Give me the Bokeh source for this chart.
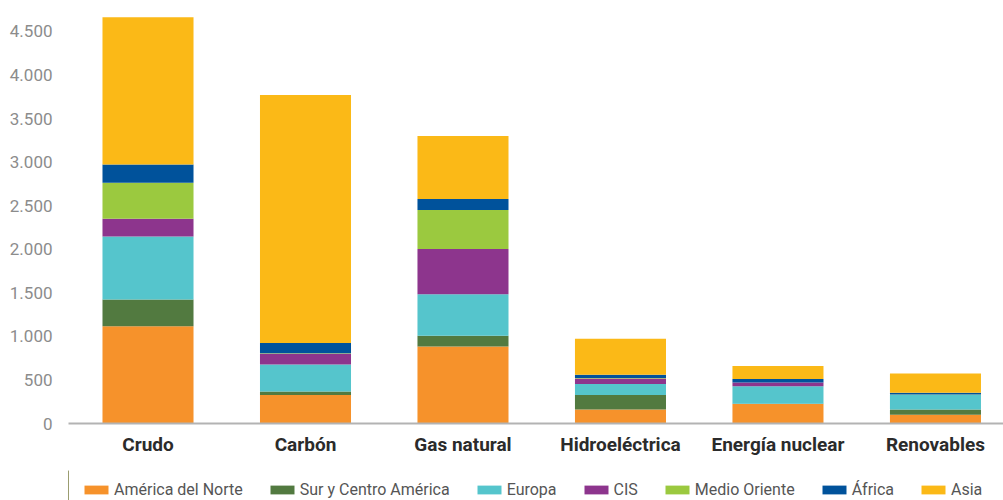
from bokeh.plotting import figure
from bokeh.layouts import column
from bokeh.models import FixedTicker, Legend, LegendItem, Range1d
from bokeh.embed import file_html
from bokeh.resources import INLINE

categories = ["Crudo", "Carbón", "Gas natural", "Hidroeléctrica", "Energía nuclear", "Renovables"]
regions = ["América del Norte", "Sur y Centro América", "Europa", "CIS", "Medio Oriente", "África", "Asia"]
colors = ["#F6922B", "#527A40", "#55C5CC", "#8D358D", "#9BC93F", "#00529B", "#FBB917"]

america_norte = [1117, 326, 884, 161, 223, 100]
sur_centro = [306, 41, 123, 165, 5, 61]
europa = [724, 310, 478, 126, 201, 168]
cis = [203, 123, 517, 65, 42, 2]
medio_oriente = [413, 5, 448, 5, 0, 2]
africa = [210, 118, 126, 39, 39, 19]
asia = [1691, 2847, 723, 413, 149, 222]

y_ticks = [0, 500, 1000, 1500, 2000, 2500, 3000, 3500, 4000, 4500]
y_tick_labels = ["0", "500", "1.000", "1.500", "2.000", "2.500", "3.000", "3.500", "4.000", "4.500"]

keys = ["na", "sca", "eu", "cis", "mo", "af", "as"]
series = [america_norte, sur_centro, europa, cis, medio_oriente, africa, asia]
data = {"x": list(range(len(categories)))}
for k, s in zip(keys, series):
    data[k] = s

FONT = "Roboto"

p = figure(frame_width=935, frame_height=418, output_backend="svg", toolbar_location=None,
           x_range=Range1d(-0.5048, 5.432), y_range=Range1d(0, 4798),
           min_border_left=68, min_border_right=0, min_border_top=5, min_border_bottom=47)
p.outline_line_color = None
p.xgrid.visible = False
p.ygrid.visible = False

rends = p.vbar_stack(keys, x="x", width=0.578, color=colors, line_color=None, source=data)

p.yaxis.ticker = FixedTicker(ticks=y_ticks)
p.yaxis.major_label_overrides = {t: l for t, l in zip(y_ticks, y_tick_labels)}
p.yaxis.axis_line_color = None
p.yaxis.major_tick_line_color = None
p.yaxis.minor_tick_line_color = None
p.yaxis.major_label_standoff = 10
p.yaxis.major_label_text_font = FONT
p.yaxis.major_label_text_font_size = "17px"
p.yaxis.major_label_text_color = "#8c8c8c"

p.xaxis.ticker = FixedTicker(ticks=list(range(len(categories))))
p.xaxis.major_label_overrides = {i: c for i, c in enumerate(categories)}
p.xaxis.axis_line_color = "#b3b3b3"
p.xaxis.axis_line_width = 2
p.xaxis.major_tick_line_color = None
p.xaxis.minor_tick_line_color = None
p.xaxis.major_tick_out = 0
p.xaxis.major_label_standoff = 9
p.xaxis.major_label_text_font = FONT
p.xaxis.major_label_text_font_style = "bold"
p.xaxis.major_label_text_font_size = "19px"
p.xaxis.major_label_text_color = "#2b2b2b"

# Legend strip: a small figure holding the legend; its swatch glyphs sit outside the visible range
lg = figure(width=1003, height=30, output_backend="svg", toolbar_location=None,
            x_axis_location=None, y_axis_location=None,
            x_range=Range1d(0, 1), y_range=Range1d(0, 1),
            min_border_left=0, min_border_right=0, min_border_top=0, min_border_bottom=0)
lg.outline_line_color = None
lg.xgrid.visible = False
lg.ygrid.visible = False
swatches = [lg.vbar(x=[-10], top=[1], width=0.1, color=c, line_color=None) for c in colors]

items = [LegendItem(label=r, renderers=[g]) for r, g in zip(regions, swatches)]
legend = Legend(items=items, orientation="horizontal", location=(13, 1),
                glyph_width=30, glyph_height=11, label_standoff=3, spacing=24,
                label_text_font=FONT, label_text_font_size="16px", label_text_color="#555555",
                border_line_color=None, background_fill_alpha=0, margin=0, padding=0,
                label_height=18)
legend.click_policy = "none"
lg.add_layout(legend, "center")

layout = column(p, lg, spacing=0)
open("out.html", "w").write(file_html(layout, INLINE))
